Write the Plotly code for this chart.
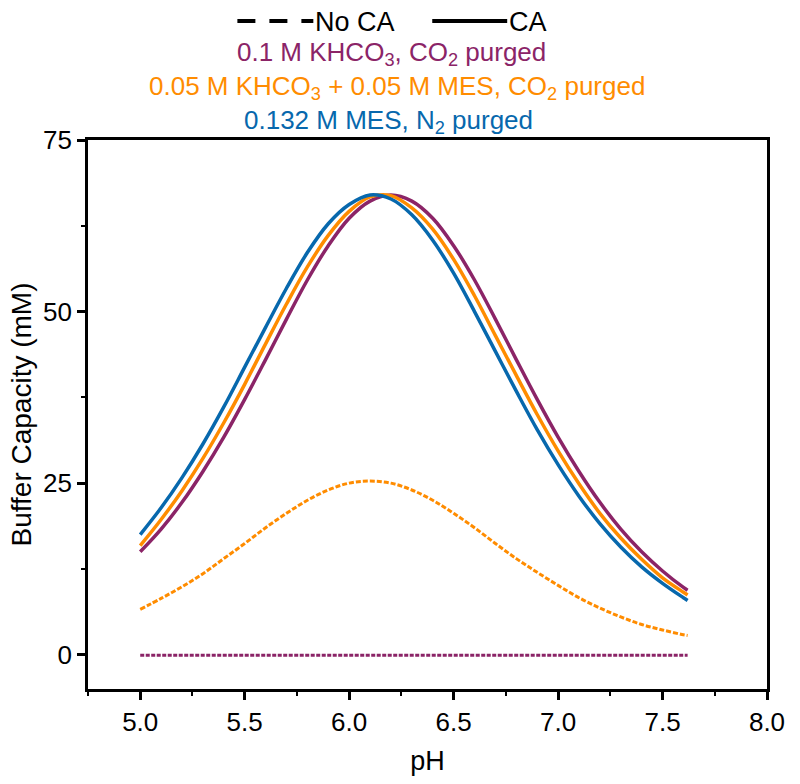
import plotly.graph_objects as go

# pH grid
ph = [5.0, 5.1, 5.2, 5.3, 5.4, 5.5, 5.6, 5.7, 5.8, 5.9, 6.0, 6.1, 6.2, 6.3, 6.4,
      6.5, 6.6, 6.7, 6.8, 6.9, 7.0, 7.1, 7.2, 7.3, 7.4, 7.5, 7.6, 7.62]

# With CA (solid)
khco3_ca = [15.0, 18.3, 22.2, 26.7, 31.7, 37.2, 43.0, 48.9, 54.6, 59.6, 63.6, 66.1, 67.0, 66.1,
            63.6, 59.6, 54.6, 48.9, 43.0, 37.2, 31.7, 26.7, 22.2, 18.3, 15.0, 12.2, 9.8, 9.4]
mix_ca = [15.9, 19.7, 23.9, 28.6, 33.8, 39.4, 45.3, 51.1, 56.5, 61.1, 64.6, 66.7, 66.9, 65.1,
          62.0, 57.6, 52.3, 46.5, 40.7, 35.0, 29.7, 24.9, 20.6, 17.0, 13.9, 11.2, 9.1, 8.7]
mes_ca = [17.5, 21.4, 25.8, 30.7, 36.1, 41.9, 47.7, 53.4, 58.6, 62.8, 65.6, 67.0, 66.4, 64.1,
          60.4, 55.6, 50.0, 44.2, 38.4, 32.8, 27.7, 23.1, 19.1, 15.7, 12.8, 10.4, 8.3, 7.9]

# Without CA (dashed)
khco3_noca = [-0.1] * len(ph)
mix_noca = [6.6, 8.2, 9.9, 11.8, 14.0, 16.2, 18.5, 20.6, 22.5, 24.0, 25.0, 25.3, 25.0, 24.0,
            22.5, 20.6, 18.5, 16.2, 14.0, 12.0, 10.1, 8.3, 6.8, 5.5, 4.4, 3.6, 2.9, 2.8]

x_ticks = [5.0, 5.5, 6.0, 6.5, 7.0, 7.5, 8.0]
y_ticks = [0, 25, 50, 75]

PURPLE = "#8B2467"
ORANGE = "#FF8C00"
BLUE = "#0768AD"
FONT = "Liberation Sans, Arial, sans-serif"

fig = go.Figure()
fig.add_trace(go.Scatter(x=ph, y=khco3_noca, mode="lines",
                         line=dict(color=PURPLE, width=3, dash="4px,1.5px"), showlegend=False))
fig.add_trace(go.Scatter(x=ph, y=mix_noca, mode="lines",
                         line=dict(color=ORANGE, width=3, dash="5px,2px", shape="spline"), showlegend=False))
fig.add_trace(go.Scatter(x=ph, y=khco3_ca, mode="lines",
                         line=dict(color=PURPLE, width=3.5, shape="spline"), showlegend=False))
fig.add_trace(go.Scatter(x=ph, y=mix_ca, mode="lines",
                         line=dict(color=ORANGE, width=3.5, shape="spline"), showlegend=False))
fig.add_trace(go.Scatter(x=ph, y=mes_ca, mode="lines",
                         line=dict(color=BLUE, width=3.5, shape="spline"), showlegend=False))

# plot area in pixels
L, R, T, B = 87.5, 767.0, 140.0, 689.0
W, H = R - L, B - T


def px(x):
    return (x - L) / W


def py(y):
    return (B - y) / H


shapes = [
    dict(type="line", xref="paper", yref="paper", x0=px(237), x1=px(313), y0=py(21), y1=py(21),
         line=dict(color="black", width=4, dash="18px,14px")),
    dict(type="line", xref="paper", yref="paper", x0=px(432), x1=px(507), y0=py(21), y1=py(21),
         line=dict(color="black", width=4)),
]

annotations = [
    dict(text="No CA", x=px(313), y=py(22), xref="paper", yref="paper", xanchor="left", yanchor="middle",
         showarrow=False, font=dict(size=27, color="black", family=FONT)),
    dict(text="CA", x=px(507), y=py(22), xref="paper", yref="paper", xanchor="left", yanchor="middle",
         showarrow=False, font=dict(size=27, color="black", family=FONT)),
    dict(text="0.1 M KHCO<sub>3</sub>, CO<sub>2</sub> purged", x=px(391), y=py(54), xref="paper", yref="paper",
         xanchor="center", yanchor="middle", showarrow=False, font=dict(size=26, color=PURPLE, family=FONT)),
    dict(text="0.05 M KHCO<sub>3</sub> + 0.05 M MES, CO<sub>2</sub> purged", x=px(397), y=py(88), xref="paper",
         yref="paper", xanchor="center", yanchor="middle", showarrow=False,
         font=dict(size=26, color=ORANGE, family=FONT)),
    dict(text="0.132 M MES, N<sub>2</sub> purged", x=px(388), y=py(121), xref="paper", yref="paper",
         xanchor="center", yanchor="middle", showarrow=False, font=dict(size=26, color=BLUE, family=FONT)),
]

fig.update_layout(
    width=800, height=784,
    margin=dict(l=L, r=800 - R, t=T, b=784 - B, pad=0),
    paper_bgcolor="white", plot_bgcolor="white",
    font=dict(family=FONT, size=26, color="black"),
    shapes=shapes, annotations=annotations,
    showlegend=False,
)
fig.update_xaxes(
    range=[4.75, 8.0], tickvals=x_ticks, ticktext=[f"{v:.1f}" for v in x_ticks],
    showline=True, linecolor="black", linewidth=2.7, mirror=True,
    ticks="outside", ticklen=8, tickwidth=2.7, tickcolor="black",
    minor=dict(ticks="outside", ticklen=4, tickwidth=2.2, dtick=0.25, tick0=4.75, tickcolor="black"),
    showgrid=False, zeroline=False,
    tickfont=dict(size=26), title=dict(text="pH", font=dict(size=27), standoff=16),
)
fig.update_yaxes(
    range=[-5, 75], tickvals=y_ticks,
    showline=True, linecolor="black", linewidth=2.7, mirror=True,
    ticks="outside", ticklen=8, tickwidth=2.7, tickcolor="black",
    minor=dict(ticks="outside", ticklen=4, tickwidth=2.2, dtick=12.5, tick0=0, tickcolor="black"),
    showgrid=False, zeroline=False,
    tickfont=dict(size=26), title=dict(text="Buffer Capacity (mM)", font=dict(size=28), standoff=4),
)

fig.write_html("out.html", config={"displayModeBar": False},
               post_script="document.body.style.margin='0';")
